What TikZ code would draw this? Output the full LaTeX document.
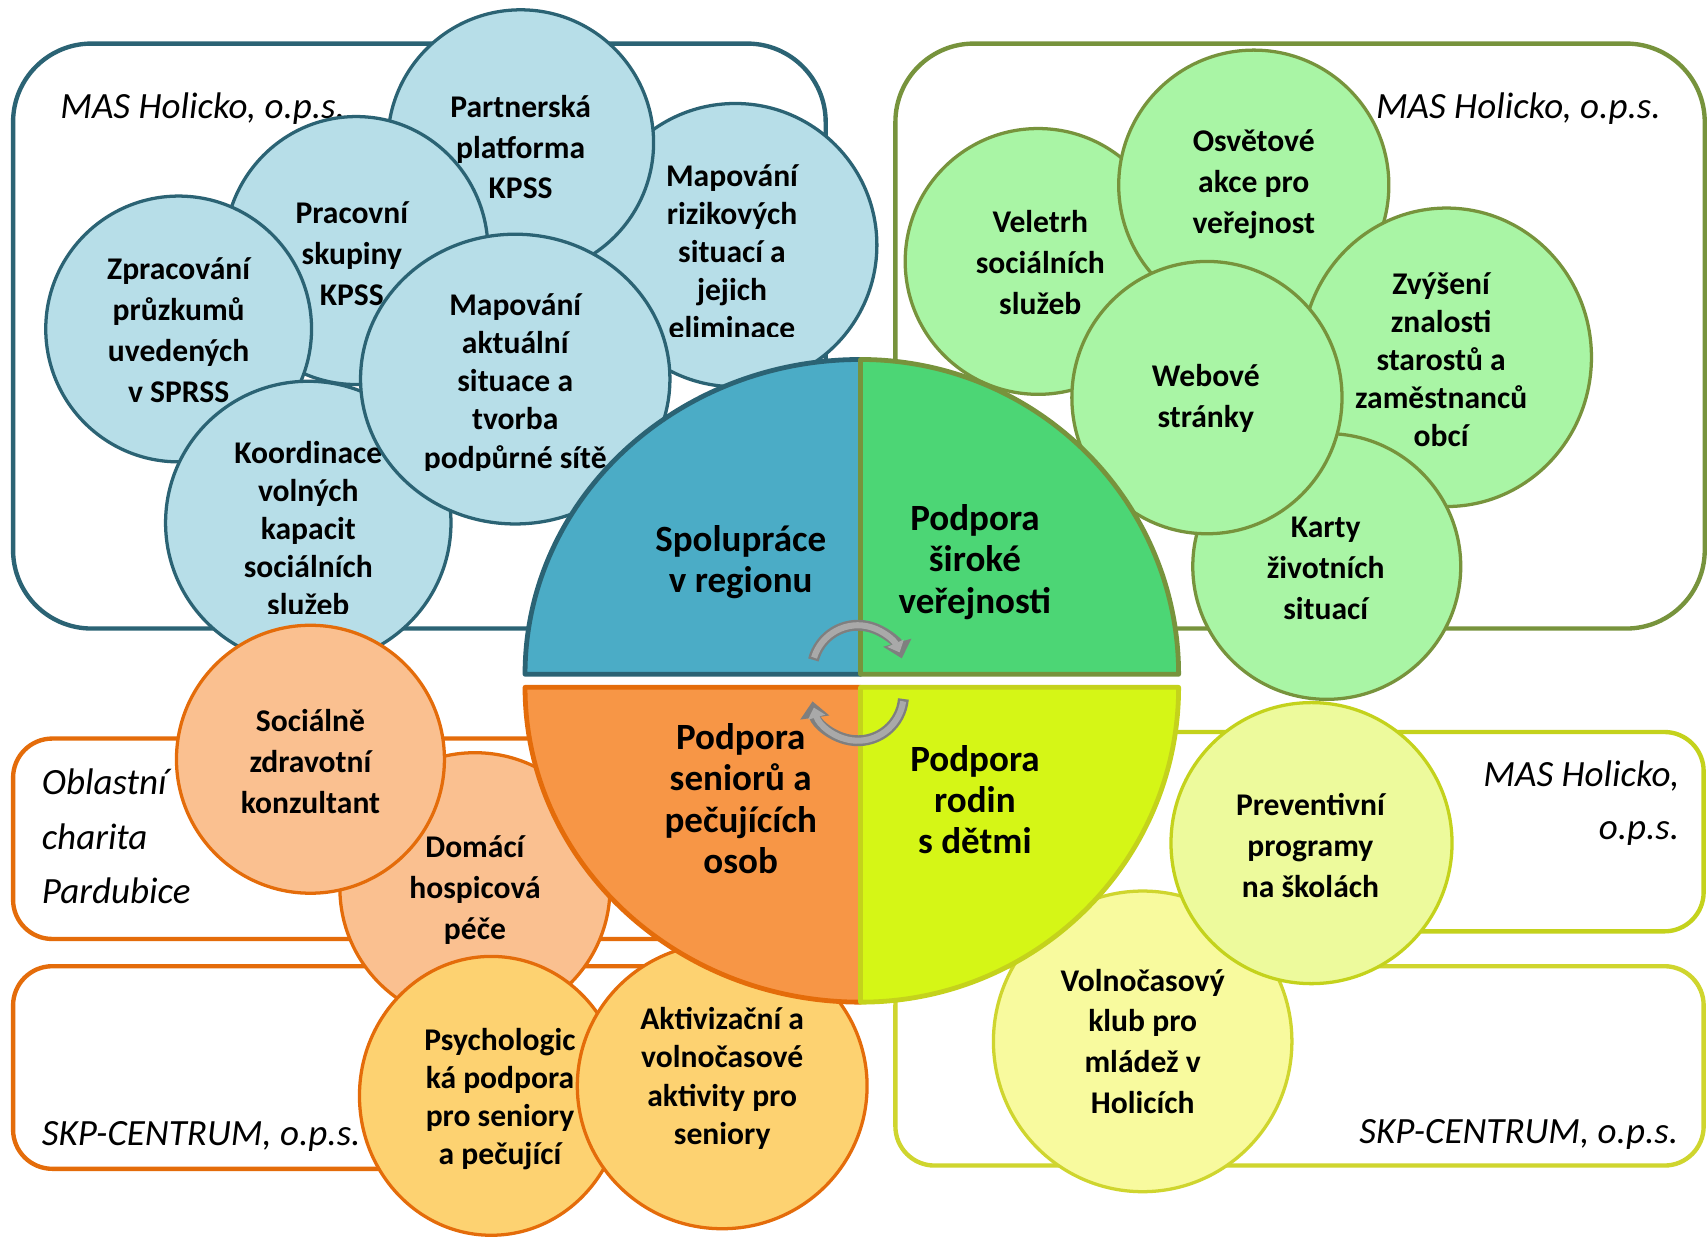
\documentclass[tikz,border=0pt]{standalone}
\usepackage{fontspec}
\setmainfont{Carlito}
\usetikzlibrary{shapes.geometric,arrows.meta}
\definecolor{tealline}{HTML}{2B6374}
\definecolor{bluefill}{HTML}{B7DEE8}
\definecolor{bluequart}{HTML}{4BACC6}
\definecolor{oliveline}{HTML}{77933C}
\definecolor{greenfill}{HTML}{A9F5A5}
\definecolor{greenquart}{HTML}{4CD675}
\definecolor{orangeline}{HTML}{E46C0A}
\definecolor{peachfill}{HTML}{FAC090}
\definecolor{goldfill}{HTML}{FDD271}
\definecolor{orangequart}{HTML}{F79646}
\definecolor{limeline}{HTML}{C4D21C}
\definecolor{limequart}{HTML}{D5F616}
\definecolor{limefill}{HTML}{EDFA9C}
\definecolor{yellowfill}{HTML}{F8FA9E}
\definecolor{yellowline}{HTML}{CFD52E}
\definecolor{arrowdark}{HTML}{7F7F7F}
\definecolor{arrowlight}{HTML}{A9A9A9}
\begin{document}
\begin{tikzpicture}[x=0.5pt,y=-0.5pt,
  orgbox/.style={rectangle, line width=2pt, inner sep=0pt},
  bub/.style={ellipse, line width=1.5pt, inner sep=0pt},
  bluebub/.style={bub, fill=bluefill, draw=tealline},
  greenbub/.style={bub, fill=greenfill, draw=oliveline},
  peachbub/.style={bub, fill=peachfill, draw=orangeline},
  goldbub/.style={bub, fill=goldfill, draw=orangeline},
  btxt/.style={align=center, inner sep=0pt, font=\fontsize{14.5}{18.75}\selectfont\bfseries},
  btxtt/.style={align=center, inner sep=0pt, font=\fontsize{14.5}{17.5}\selectfont\bfseries},
  qtxt/.style={align=center, inner sep=0pt, font=\fontsize{17}{19}\selectfont\bfseries},
  itxt/.style={inner sep=0pt, font=\fontsize{17}{25}\selectfont\itshape},
  quart/.style={line width=2.2pt, line join=round},
  cyc/.style={line width=5pt, draw=arrowdark, -{Triangle[width=13pt,length=7.5pt]}},
  cycin/.style={line width=2.8pt, draw=arrowlight, -{Triangle[width=8pt,length=4.6pt]}}
]
\useasboundingbox (0,0) rectangle (1568,1136);
\fill[white] (0,0) rectangle (1568,1136);

% ---------- frames ----------
\node[orgbox, rounded corners=36pt, draw=tealline, minimum width=373pt, minimum height=268.5pt] (boxTL) at (385,308.5) {};
\node[orgbox, rounded corners=36pt, draw=oliveline, minimum width=371.5pt, minimum height=268.5pt] (boxTR) at (1193.5,308.5) {};
\node[orgbox, rounded corners=18pt, draw=orangeline, minimum width=373pt, minimum height=92pt] (boxML) at (385,770) {};
\node[orgbox, rounded corners=18pt, draw=orangeline, minimum width=373pt, minimum height=93pt] (boxBL) at (385,980) {};
\node[orgbox, rounded corners=18pt, draw=limeline, minimum width=371pt, minimum height=91.5pt] (boxMR) at (1193,763.5) {};
\node[orgbox, rounded corners=18pt, draw=yellowline, minimum width=371pt, minimum height=91.5pt] (boxBR) at (1193,978.5) {};

\node[itxt, anchor=west] (lblTL) at (55,100) {MAS Holicko, o.p.s.};
\node[itxt, anchor=east] (lblTR) at (1525,100) {MAS Holicko, o.p.s.};
\node[itxt, anchor=west, align=left] (lblML) at (38,768) {Oblastní\\charita\\Pardubice};
\node[itxt, anchor=west] (lblBL) at (38,1043) {SKP-CENTRUM, o.p.s.};
\node[itxt, anchor=east, align=right, font=\fontsize{17}{24.5}\selectfont\itshape] (lblMR) at (1542,737) {MAS Holicko,\\o.p.s.};
\node[itxt, anchor=east] (lblBR) at (1541,1041) {SKP-CENTRUM, o.p.s.};

% ---------- blue circles ----------
\node[bluebub, minimum width=130pt, minimum height=130pt] (cB) at (675,225) {};
\begin{scope}
\clip (540,100) rectangle (810,309);
\node[btxtt] (tB) at (672,231) {Mapování\\rizikových\\situací a\\jejich\\eliminace};
\end{scope}
\node[bluebub, minimum width=122pt, minimum height=122pt] (cA) at (478,131) {};
\node[btxt] (tA) at (478,135) {Partnerská\\platforma\\KPSS};
\node[bluebub, minimum width=121pt, minimum height=123pt] (cC) at (327,230) {};
\node[btxt] (tC) at (323,233) {Pracovní\\skupiny\\KPSS};
\node[bluebub, minimum width=122pt, minimum height=122pt] (cD) at (164,302) {};
\node[btxt] (tD) at (164,303) {Zpracování\\průzkumů\\uvedených\\v SPRSS};
\node[bluebub, minimum width=131pt, minimum height=130pt] (cE) at (283,480) {};
\begin{scope}
\clip (150,380) rectangle (420,563);
\node[btxtt] (tE) at (283,485) {Koordinace\\volných\\kapacit\\sociálních\\služeb};
\end{scope}
\node[bluebub, minimum width=142pt, minimum height=133pt] (cF) at (473,348) {};
\begin{scope}
\clip (330,240) rectangle (620,432);
\node[btxtt] (tF) at (473,352) {Mapování\\aktuální\\situace a\\tvorba\\podpůrné sítě};
\end{scope}

% ---------- green circles ----------
\node[greenbub, minimum width=122pt, minimum height=122pt] (gA) at (953,240) {};
\node[btxt] (tgA) at (955,241) {Veletrh\\sociálních\\služeb};
\node[greenbub, minimum width=124pt, minimum height=124pt] (gB) at (1151,170) {};
\node[btxt] (tgB) at (1151,169) {Osvětové\\akce pro\\veřejnost};
\node[greenbub, minimum width=133pt, minimum height=137pt] (gC) at (1328,328) {};
\node[btxtt] (tgC) at (1323,330) {Zvýšení\\znalosti\\starostů a\\zaměstnanců\\obcí};
\node[greenbub, minimum width=123pt, minimum height=122pt] (gD) at (1218,520) {};
\node[btxt] (tgD) at (1217,522) {Karty\\životních\\situací};
\node[greenbub, minimum width=124pt, minimum height=125pt] (gE) at (1108,365) {};
\node[btxt] (tgE) at (1107,366) {Webové\\stránky};

% ---------- orange circles ----------
\node[peachbub, minimum width=124pt, minimum height=124pt] (oA) at (436,815) {};
\node[btxt] (toA) at (436,817) {Domácí\\hospicová\\péče};
\node[peachbub, minimum width=123pt, minimum height=123pt] (oB) at (285,697) {};
\node[btxt] (toB) at (285,699) {Sociálně\\zdravotní\\konzultant};
\node[goldbub, minimum width=121pt, minimum height=128pt] (oC) at (451,1006) {};
\node[btxtt] (toC) at (459,1009) {Psychologic\\ká podpora\\pro seniory\\a pečující};
\node[goldbub, minimum width=133pt, minimum height=131pt] (oD) at (663,997) {};
\node[btxtt] (toD) at (663,990) {Aktivizační a\\volnočasové\\aktivity pro\\seniory};

% ---------- yellow circles ----------
\node[bub, fill=yellowfill, draw=yellowline, minimum width=137pt, minimum height=138pt] (yA) at (1049,956) {};
\node[btxt] (tyA) at (1049,956) {Volnočasový\\klub pro\\mládež v\\Holicích};
\node[bub, fill=limefill, draw=limeline, minimum width=129pt, minimum height=129pt] (yB) at (1204,774) {};
\node[btxt] (tyB) at (1203,776) {Preventivní\\programy\\na školách};

% ---------- central quarters ----------
\draw[quart, fill=bluequart, draw=tealline] (790,619) -- (482,619) arc[start angle=180, end angle=90, x radius=154pt, y radius=144.5pt] -- cycle;
\draw[quart, fill=greenquart, draw=oliveline] (790,619) -- (790,330) arc[start angle=90, end angle=0, x radius=146pt, y radius=144.5pt] -- cycle;
\draw[quart, fill=orangequart, draw=orangeline] (790,631) -- (482,631) arc[start angle=180, end angle=270, x radius=154pt, y radius=144.5pt] -- cycle;
\draw[quart, fill=limequart, draw=limeline] (790,631) -- (1082,631) arc[start angle=0, end angle=-90, x radius=146pt, y radius=144.5pt] -- cycle;

\node[qtxt] (qA) at (680,516) {Spolupráce\\v regionu};
\node[qtxt] (qB) at (895,516) {Podpora\\široké\\veřejnosti};
\node[qtxt] (qC) at (680,733) {Podpora\\seniorů a\\pečujících\\osob};
\node[qtxt] (qD) at (895,734) {Podpora\\rodin\\s dětmi};

% ---------- cycle arrows ----------
\coordinate (arcT) at (787.5,616);
\coordinate (arcB) at (787.5,638);
\draw[cyc] ([shift={(166:21pt)}]arcT) arc[start angle=166, end angle=16, radius=21pt];
\draw[cycin] ([shift={(163:21pt)}]arcT) arc[start angle=163, end angle=24, radius=21pt];
\draw[cyc] ([shift={(-5:21pt)}]arcB) arc[start angle=-5, end angle=-172, radius=21pt];
\draw[cycin] ([shift={(-8:21pt)}]arcB) arc[start angle=-8, end angle=-164, radius=21pt];
\end{tikzpicture}
\end{document}
